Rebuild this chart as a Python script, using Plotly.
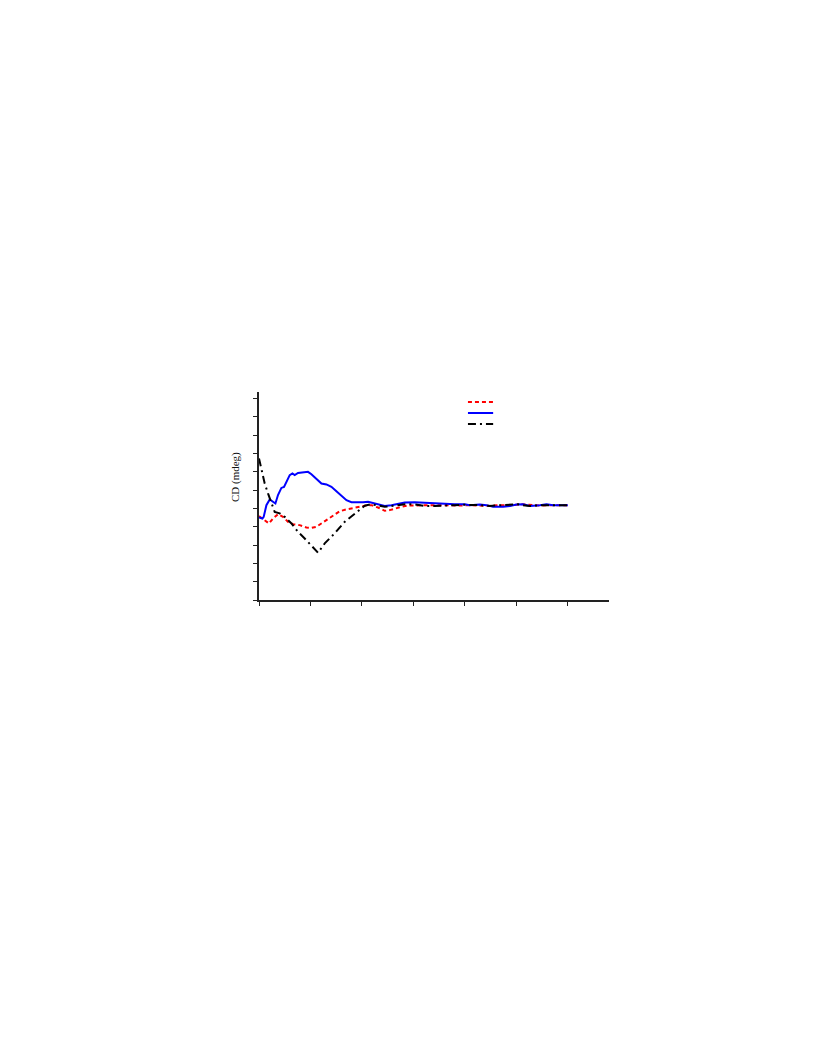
import plotly.graph_objects as go

# Wavelength (nm) and CD (mdeg) readings for each series
blue_x = [200.0, 200.66, 200.91, 201.44, 202.08, 202.72, 203.19, 203.69, 204.35, 204.86,
          205.33, 205.97, 206.49, 206.94, 207.58, 208.55, 209.52, 210.18, 211.16, 212.13,
          213.10, 214.07, 215.04, 216.02, 216.99, 217.96, 218.93, 220.21, 221.19, 221.85,
          223.13, 224.43, 225.73, 227.02, 228.32, 230.26, 232.20, 234.15, 236.09, 238.04,
          239.98, 240.95, 242.90, 244.20, 245.48, 247.43, 248.73, 250.03, 251.31, 252.61,
          254.56, 255.86, 257.14, 258.44, 260.0]
blue_y = [-0.49, -0.55, -0.46, 0.18, 0.49, 0.36, 0.27, 0.73, 1.12, 1.18,
          1.45, 1.82, 1.91, 1.82, 1.94, 1.96, 2.00, 1.87, 1.64, 1.36,
          1.31, 1.18, 0.94, 0.67, 0.45, 0.34, 0.33, 0.34, 0.36, 0.31,
          0.23, 0.14, 0.18, 0.27, 0.33, 0.34, 0.31, 0.27, 0.27, 0.23,
          0.23, 0.18, 0.22, 0.18, 0.09, 0.09, 0.14, 0.22, 0.23, 0.14,
          0.18, 0.23, 0.18, 0.18, 0.18]

red_x = [200.0, 201.11, 201.94, 202.72, 203.69, 204.66, 205.64, 206.61, 207.91, 209.21,
         210.18, 211.16, 212.13, 213.10, 214.38, 215.68, 216.99, 218.27, 219.57, 220.87,
         221.85, 223.13, 224.43, 225.40, 226.37, 227.68, 228.96, 230.90, 232.85, 234.79,
         236.73, 238.68, 240.95, 242.90, 244.84, 246.79, 248.73, 250.67, 252.61, 254.56,
         256.50, 258.44, 260.0]
red_y = [-0.42, -0.64, -0.82, -0.55, -0.31, -0.46, -0.73, -0.86, -0.91, -1.04,
         -1.06, -1.00, -0.82, -0.64, -0.37, -0.15, -0.05, 0.00, 0.09, 0.16,
         0.18, 0.05, -0.13, -0.09, 0.00, 0.09, 0.16, 0.18, 0.16, 0.18,
         0.18, 0.16, 0.18, 0.14, 0.14, 0.18, 0.16, 0.23, 0.18, 0.16,
         0.18, 0.18, 0.18]

black_x = [200.0, 200.47, 201.11, 201.75, 202.41, 203.05, 204.02, 205.00, 206.30, 207.58,
           208.88, 210.18, 211.47, 212.77, 214.71, 216.66, 218.60, 220.54, 221.85, 223.13,
           224.43, 226.37, 228.32, 230.26, 232.20, 234.15, 236.09, 238.04, 239.98, 240.95,
           242.90, 244.84, 246.79, 248.73, 250.34, 251.31, 252.61, 254.56, 256.50, 258.44,
           260.0]
black_y = [2.73, 2.09, 1.36, 0.82, 0.27, -0.19, -0.27, -0.46, -0.82, -1.28,
           -1.64, -2.06, -2.42, -1.91, -1.36, -0.73, -0.27, 0.15, 0.23, 0.14,
           0.09, 0.16, 0.23, 0.22, 0.14, 0.14, 0.18, 0.18, 0.20, 0.20,
           0.18, 0.14, 0.18, 0.18, 0.23, 0.18, 0.13, 0.18, 0.18, 0.18,
           0.18]

y_title = "CD (mdeg)"

RED = "#ff0000"
BLUE = "#0000ff"
BLACK = "#000000"
RED_DASH = "4px,3px"
BLACK_DASH = "8px,4px,2px,4px"

fig = go.Figure()
fig.add_trace(go.Scatter(x=red_x, y=red_y, mode="lines",
                         line=dict(color=RED, width=2, dash=RED_DASH), showlegend=False))
fig.add_trace(go.Scatter(x=blue_x, y=blue_y, mode="lines",
                         line=dict(color=BLUE, width=2), showlegend=False))
fig.add_trace(go.Scatter(x=black_x, y=black_y, mode="lines",
                         line=dict(color=BLACK, width=2, dash=BLACK_DASH), showlegend=False))

# legend samples (no text in the original)
for yy, col, dash in [(0.952, RED, RED_DASH), (0.899, BLUE, "solid"), (0.846, BLACK, BLACK_DASH)]:
    fig.add_shape(type="line", xref="paper", yref="paper", x0=0.597, x1=0.669, y0=yy, y1=yy,
                  line=dict(color=col, width=2, dash=dash))

fig.add_annotation(text=y_title, xref="paper", yref="paper", x=-0.0686, y=0.591,
                   textangle=-90, showarrow=False, xanchor="center", yanchor="middle",
                   font=dict(family="Liberation Serif", size=11, color="#111111"))

axis_common = dict(showgrid=False, zeroline=False, showline=True, linecolor="#222222",
                   linewidth=1.5, ticks="outside", ticklen=4, tickwidth=1, tickcolor="#222222",
                   showticklabels=False)
fig.update_xaxes(range=[200, 268], tick0=200, dtick=10, **axis_common)
fig.update_yaxes(range=[-5, 6.36], tick0=-4, dtick=1, **axis_common)

fig.update_layout(width=816, height=1056, plot_bgcolor="white", paper_bgcolor="white",
                  margin=dict(l=251, r=215, t=384, b=464), showlegend=False)

fig.write_html("out.html")
